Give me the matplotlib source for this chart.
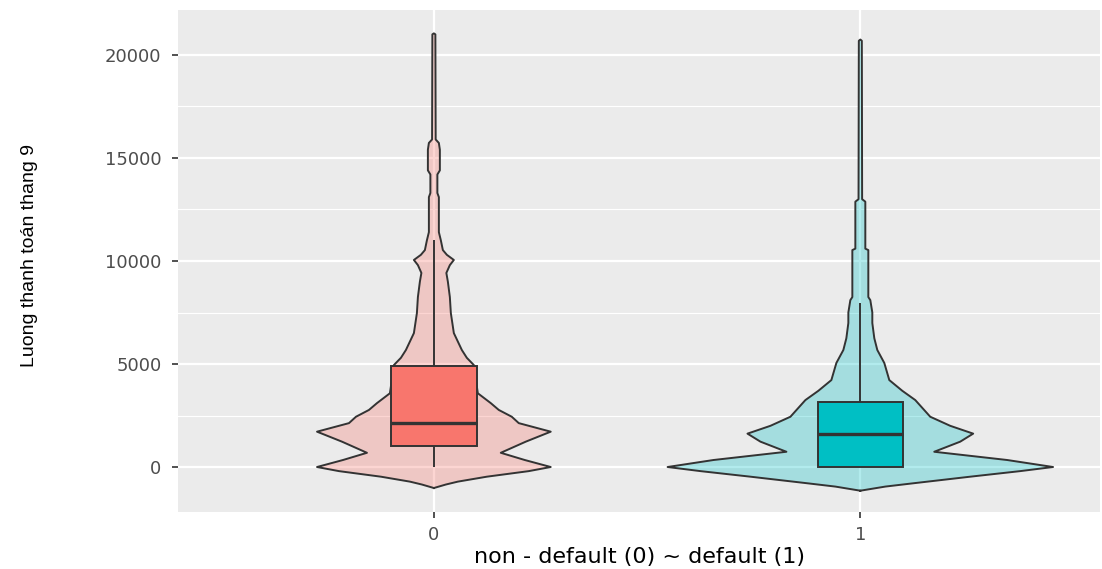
import numpy as np
import matplotlib.pyplot as plt

# ---------------------------------
# data
# ---------------------------------
groups = ["0", "1"]

# violin outline: payment value and half-width (pixels, 427 px = one category step)
v0_y = [-1020, -850, -710, -470, -200, 0, 340, 690, 1230, 1715, 2130, 2440, 2770,
        3100, 3580, 4950, 5300, 5680, 6500, 7470, 8250, 9000, 9420, 9800, 10050,
        10300, 10530, 11000, 11400, 13100, 13300, 14200, 14400, 15400, 15730,
        15900, 21000, 21050]
v0_w = [0, 12, 24, 53, 95, 117, 91, 67, 92, 117, 85, 78, 65,
        57, 44, 40, 33, 28, 20, 17, 16, 14, 12.5, 16, 20,
        13, 9, 7, 5, 5, 3.5, 3.5, 6, 6, 5,
        1.8, 1.5, 0]

v1_y = [-1150, -950, -790, -470, -200, 0, 340, 740, 1230, 1620, 2000, 2440, 3250,
        3700, 4220, 5050, 5680, 6250, 6990, 7500, 8100, 8250, 10530, 10600,
        12880, 13000, 20690, 20750]
v1_w = [0, 25, 53, 110, 160, 193, 147, 74, 100, 113, 90, 70, 55,
        42, 29, 24, 17, 14, 12, 12, 10, 8, 8, 5,
        5, 1.8, 1.5, 0]

# boxplot stats: lower whisker, Q1, median, Q3, upper whisker
box_lo = [0, 0]
box_q1 = [1035, 0]
box_med = [2120, 1590]
box_q3 = [4920, 3140]
box_hi = [11000, 7950]

fills = ["#F8766D", "#00BFC4"]
line_col = "#333333"

# ---------------------------------
# figure
# ---------------------------------
fig = plt.figure(figsize=(11.02, 5.69), dpi=100)
ax = fig.add_axes([178 / 1102, 57 / 569, 922 / 1102, 502 / 569])
ax.set_facecolor("#EBEBEB")

px = 1 / 427.0
violins = [(v0_y, v0_w), (v1_y, v1_w)]

for i, (vy, vw) in enumerate(violins):
    vy = np.array(vy, dtype=float)
    vw = np.array(vw, dtype=float) * px
    xs = np.r_[i + vw, (i - vw)[::-1]]
    ys = np.r_[vy, vy[::-1]]
    ax.fill(xs, ys, facecolor=fills[i], alpha=0.3, edgecolor="none", zorder=2)
    ax.plot(xs, ys, color=line_col, lw=1.4, zorder=3)

    # boxplot, width 0.2
    bw = 0.1
    ax.vlines(i, box_q3[i], box_hi[i], color=line_col, lw=1.4, zorder=4)
    ax.vlines(i, box_lo[i], box_q1[i], color=line_col, lw=1.4, zorder=4)
    rect = plt.Rectangle((i - bw, box_q1[i]), 2 * bw, box_q3[i] - box_q1[i],
                         facecolor=fills[i], edgecolor=line_col, lw=1.4, zorder=5)
    ax.add_patch(rect)
    ax.hlines(box_med[i], i - bw, i + bw, color=line_col, lw=2.4, zorder=6)

ax.set_xlim(-0.6, 1.562)
ax.set_ylim(-2184, 22184)

ax.set_xticks([0, 1])
ax.set_xticklabels(groups)
ax.set_yticks([0, 5000, 10000, 15000, 20000])
ax.set_yticks([2500, 7500, 12500, 17500], minor=True)

ax.grid(True, which="major", color="white", lw=1.6, zorder=0)
ax.grid(True, which="minor", axis="y", color="white", lw=0.8, zorder=0)
ax.set_axisbelow(True)

for s in ax.spines.values():
    s.set_visible(False)

ax.tick_params(axis="both", which="major", color=line_col, length=4, width=1.2,
               labelcolor="#4D4D4D", labelsize=13)
ax.tick_params(axis="y", which="minor", length=0)
ax.tick_params(axis="y", pad=8)
ax.tick_params(axis="x", pad=6)

ax.set_xlabel("non - default (0) ~ default (1)", fontsize=16, color="black", labelpad=2)
ax.set_ylabel("Luong thanh toán thang 9", fontsize=14, color="black",
              family="Liberation Sans")
ax.yaxis.set_label_coords(-0.152, 0.51)

fig.savefig("out.png", dpi=100)
